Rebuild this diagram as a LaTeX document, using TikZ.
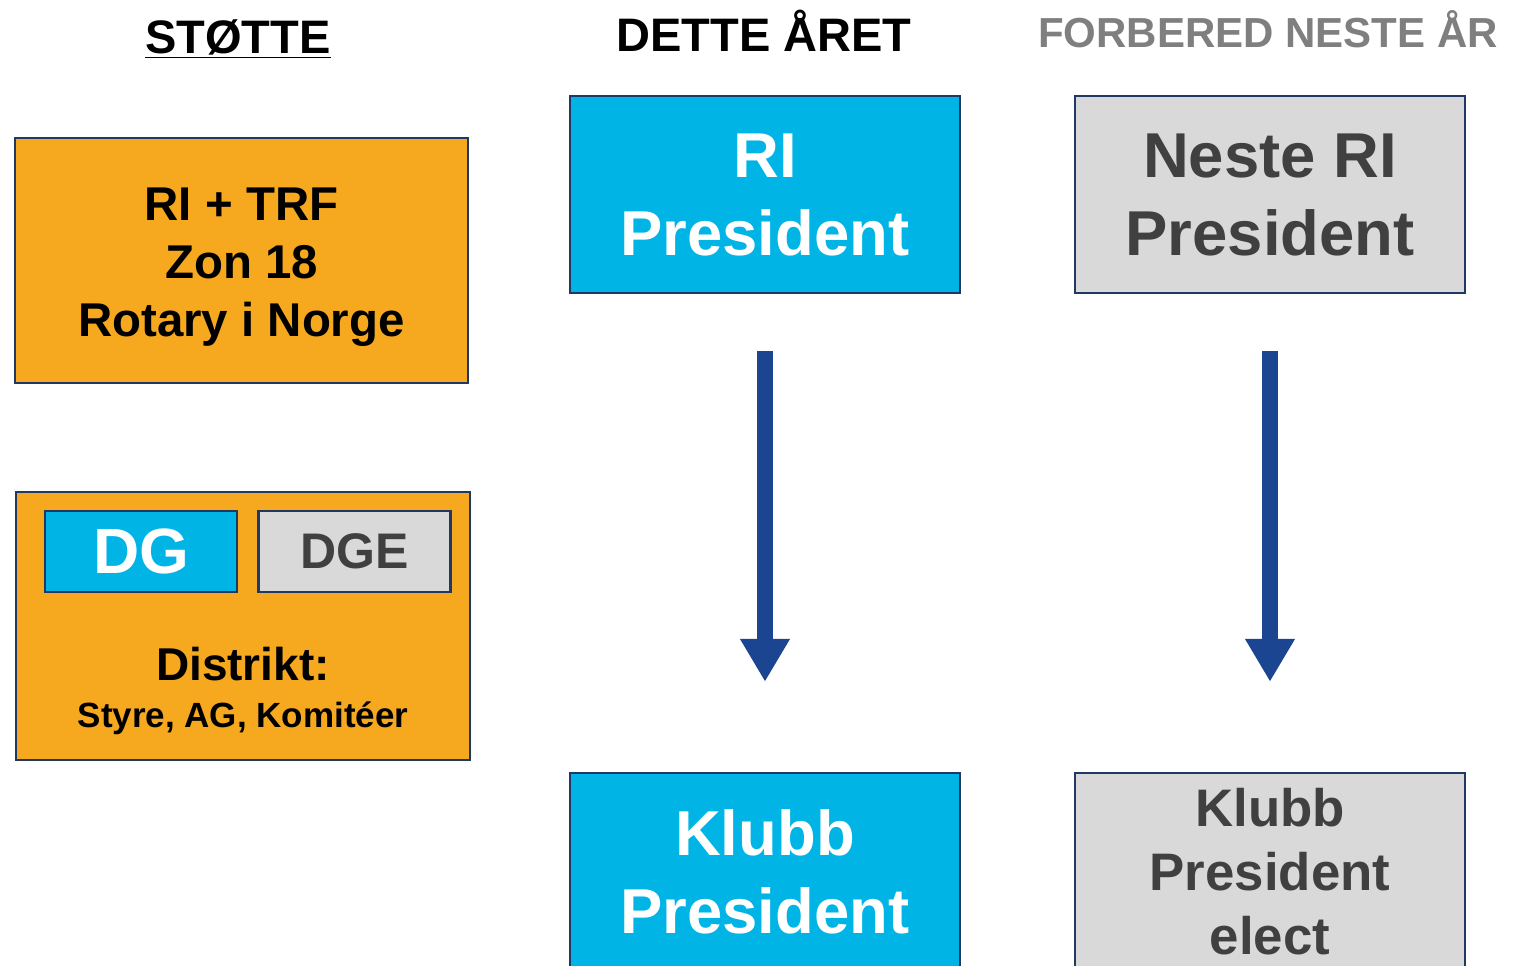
\documentclass[tikz,border=0pt]{standalone}
\usepackage{fontspec}
\setmainfont{Liberation Sans}
\usetikzlibrary{arrows.meta,positioning}
\definecolor{rotorange}{HTML}{F6A81E}
\definecolor{rotcyan}{HTML}{00B4E6}
\definecolor{rotgray}{HTML}{D9D9D9}
\definecolor{rotdark}{HTML}{404040}
\definecolor{rotedge}{HTML}{1F3864}
\definecolor{rotarrow}{HTML}{1B4591}
\definecolor{headgray}{HTML}{7F7F7F}
\begin{document}
\begin{tikzpicture}[x=0.5pt,y=-0.5pt,
    box/.style={draw=rotedge,line width=1.25pt,inner sep=0pt,align=center},
    orangebox/.style={box,fill=rotorange,text=black},
    nowbox/.style={box,fill=rotcyan,text=white,minimum width=195pt,minimum height=98.5pt},
    nextbox/.style={box,fill=rotgray,text=rotdark,minimum width=195pt,minimum height=98.5pt},
    head/.style={font=\bfseries\fontsize{23.5}{28}\selectfont},
    bigfont/.style={font=\bfseries\fontsize{31.7}{39}\selectfont},
    downarrow/.style={rotarrow,line width=8pt,-{Triangle[width=23.5pt,length=21.5pt]},
      shorten <=28.5pt,shorten >=45pt}]
   \useasboundingbox (0,0) rectangle (1521,965);
   \clip (0,0) rectangle (1521,965);
   % column heads
   \node[head] (stotte) at (238,39) {\underline{STØTTE}};
   \node[head] (dette) at (764,31) {DETTE ÅRET};
   \node[head,text=headgray,font=\bfseries\fontsize{21}{25}\selectfont] (forbered) at (1268,29) {FORBERED NESTE ÅR};
   % support column
   \node[orangebox,minimum width=226.5pt,minimum height=122.5pt] (rotary) at (241.5,260.5) {};
   \node[align=center,font=\bfseries\fontsize{23.7}{29}\selectfont] (rotarytxt) at (241.5,267.5)
     {RI + TRF\\Zon 18\\Rotary i Norge};
   \node[orangebox,minimum width=227pt,minimum height=134pt] (distrikt) at (243,626) {};
   \node[box,fill=rotcyan,text=white,minimum width=96pt,minimum height=40.5pt,
     font=\bfseries\fontsize{32}{36}\selectfont] (dg) at (141,551.5) {DG};
   \node[box,fill=rotgray,text=rotdark,minimum width=96pt,minimum height=40.5pt,
     font=\bfseries\fontsize{25}{30}\selectfont,right=9.5pt of dg] (dge) {DGE};
   \node[anchor=base,font=\bfseries\fontsize{23}{28}\selectfont] (distrikttxt) at (243,680) {Distrikt:};
   \node[anchor=base,font=\bfseries\fontsize{17.5}{21}\selectfont] (styre) at (243,727) {Styre, AG, Komitéer};
   % this year
   \node[nowbox,bigfont] (ripres) at (765,194.5) {RI\\President};
   \node[nowbox,bigfont] (klubbpres) at (765,871.5) {Klubb\\President};
   % next year
   \node[nextbox,bigfont] (nesteri) at (1270,194.5) {Neste RI\\President};
   \node[nextbox,font=\bfseries\fontsize{26.4}{32}\selectfont] (klubbelect) at (1270,871.5)
     {Klubb\\President\\elect};
   % arrows
   \draw[downarrow] (ripres) -- (klubbpres);
   \draw[downarrow] (nesteri) -- (klubbelect);
\end{tikzpicture}
\end{document}
